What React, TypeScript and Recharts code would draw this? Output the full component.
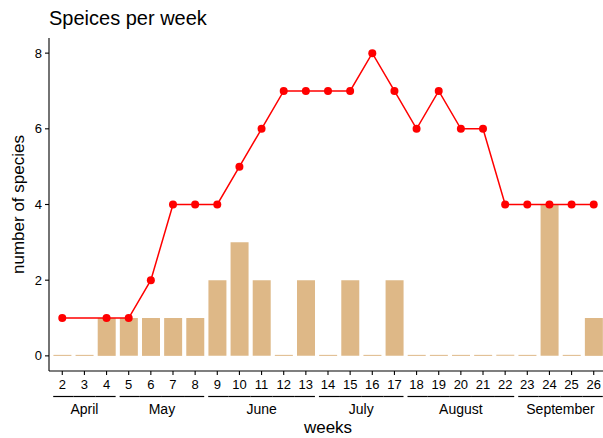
import { ComposedChart, Bar, Line, XAxis, YAxis } from 'recharts'

const weeks = [2, 3, 4, 5, 6, 7, 8, 9, 10, 11, 12, 13, 14, 15, 16, 17, 18, 19, 20, 21, 22, 23, 24, 25, 26]
const weekMonth = [
  'April', 'April', 'April',
  'May', 'May', 'May', 'May',
  'June', 'June', 'June', 'June', 'June',
  'July', 'July', 'July', 'July',
  'August', 'August', 'August', 'August', 'August',
  'September', 'September', 'September', 'September',
]
// cumulative species seen per week (week 3 has no record)
const speciesCount = [1, null, 1, 1, 2, 4, 4, 4, 5, 6, 7, 7, 7, 7, 8, 7, 6, 7, 6, 6, 4, 4, 4, 4, 4]
// new species per week
const newSpecies = [0, 0, 1, 1, 1, 1, 1, 2, 3, 2, 0, 2, 0, 2, 0, 2, 0, 0, 0, 0, 0, 0, 4, 0, 1]
const yTicks = [0, 2, 4, 6, 8]

const data = weeks.map((week, i) => ({
  week,
  month: weekMonth[i],
  species: speciesCount[i],
  newSpecies: newSpecies[i],
}))

const FONT = "'Liberation Sans', Arial, sans-serif"

function WeekTick(props: any) {
  const { x, y, payload, index } = props
  const half = payload?.offset ? payload.offset : 11.07
  const month = weekMonth[index]
  const first = index === 0 || weekMonth[index - 1] !== month
  const last = index === weeks.length - 1 || weekMonth[index + 1] !== month
  const x1 = x - half + (first ? 2 : 0)
  const x2 = x + half - (last ? 2 : 0)
  const n = weekMonth.filter(m => m === month).length
  return (
    <g>
      <text x={x} y={y + 12} textAnchor="middle" fontSize={13} fill="#000" fontFamily={FONT}>
        {payload.value}
      </text>
      <line x1={x1} x2={x2} y1={y + 19.5} y2={y + 19.5} stroke="#000" strokeWidth={1.2} />
      {first && (
        <text x={x + (n - 1) * half} y={y + 37} textAnchor="middle" fontSize={14} fill="#000" fontFamily={FONT}>
          {month}
        </text>
      )}
    </g>
  )
}

export default function App() {
  return (
    <div
      style={{
        position: 'absolute',
        left: 0,
        top: 0,
        width: 603,
        height: 438,
        overflow: 'hidden',
        background: '#fff',
        fontFamily: FONT,
      }}
    >
      <div
        style={{
          position: 'absolute',
          left: 49,
          top: 8,
          fontSize: 20,
          lineHeight: '20px',
          color: '#000',
          whiteSpace: 'nowrap',
        }}
      >
        Speices per week
      </div>
      <ComposedChart
        width={607}
        height={438}
        data={data}
        margin={{ top: 38, right: 0, bottom: 0, left: 0 }}
        barCategoryGap="10%"
      >
        <XAxis
          dataKey="week"
          height={67}
          padding={{ left: 2.2, right: 2.2 }}
          tickSize={4}
          tickMargin={2}
          interval={0}
          axisLine={{ stroke: '#000', strokeWidth: 1.1 }}
          tickLine={{ stroke: '#000', strokeWidth: 1.1 }}
          tick={<WeekTick />}
          label={{ value: 'weeks', position: 'insideBottom', offset: 5, fontSize: 17, fill: '#000', fontFamily: FONT }}
        />
        <YAxis
          width={49}
          domain={[-0.4, 8.4]}
          ticks={yTicks}
          tickSize={4}
          tickMargin={3}
          axisLine={{ stroke: '#000', strokeWidth: 1.1 }}
          tickLine={{ stroke: '#000', strokeWidth: 1.1 }}
          tick={{ fontSize: 13, fill: '#000', fontFamily: FONT }}
          label={{
            value: 'number of species',
            angle: -90,
            position: 'center',
            dx: -6.5,
            fontSize: 17,
            fill: '#000',
            fontFamily: FONT,
          }}
        />
        <Bar dataKey="newSpecies" fill="#DEB887" minPointSize={1} isAnimationActive={false} />
        <Line
          dataKey="species"
          stroke="#FF0000"
          strokeWidth={1.5}
          connectNulls
          dot={{ r: 4, fill: '#FF0000', stroke: '#FF0000', strokeWidth: 0 }}
          activeDot={false}
          isAnimationActive={false}
        />
      </ComposedChart>
    </div>
  )
}
